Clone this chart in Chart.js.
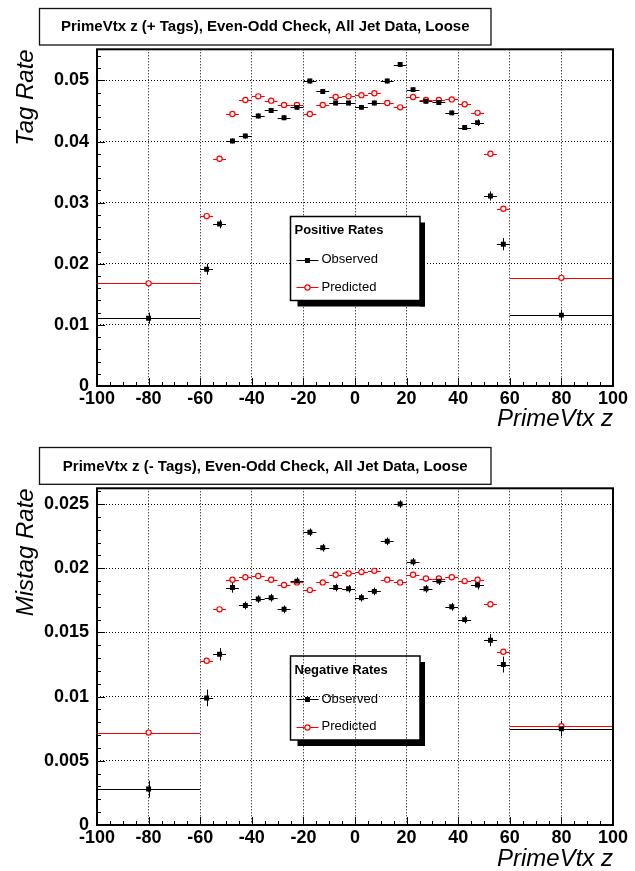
<!DOCTYPE html>
<html>
<head>
<meta charset="utf-8">
<title>PrimeVtx z - Even-Odd Check</title>
<script src="https://cdn.jsdelivr.net/npm/chart.js@4.4.1/dist/chart.umd.min.js"></script>
<style>
    html, body { margin: 0; padding: 0; background: #fff; }
    #wrap { position: relative; width: 635px; height: 871px; }
    canvas { position: absolute; left: 0; }
    #posCanvas { top: 0; }
    #negCanvas { top: 435px; }
</style>
</head>
<body>
<div id="wrap">
    <canvas id="posCanvas" width="635" height="435"></canvas>
    <canvas id="negCanvas" width="635" height="436"></canvas>
</div>
<script>
// Bins of PrimeVtx z (two wide bins at the ends, 5 cm bins in the middle)
const binCenters = [-80, -57.5, -52.5, -47.5, -42.5, -37.5, -32.5, -27.5, -22.5, -17.5, -12.5, -7.5, -2.5,
    2.5, 7.5, 12.5, 17.5, 22.5, 27.5, 32.5, 37.5, 42.5, 47.5, 52.5, 57.5, 80];
const binHalfWidths = [20, 2.5, 2.5, 2.5, 2.5, 2.5, 2.5, 2.5, 2.5, 2.5, 2.5, 2.5, 2.5,
    2.5, 2.5, 2.5, 2.5, 2.5, 2.5, 2.5, 2.5, 2.5, 2.5, 2.5, 2.5, 20];

// Positive tags
const posObserved = [0.0111, 0.0191, 0.0265, 0.0401, 0.0409, 0.0442, 0.0451, 0.0439, 0.0456, 0.0499, 0.0482, 0.0463, 0.0463,
    0.0456, 0.0463, 0.0499, 0.0526, 0.0485, 0.0466, 0.0464, 0.0447, 0.0423, 0.0431, 0.0311, 0.0232, 0.0116];
const posObservedErr = [0.0009, 0.0009, 0.0007, 0.0004, 0.0004, 0.0004, 0.0004, 0.0004, 0.0004, 0.0004, 0.0004, 0.0004, 0.0004,
    0.0004, 0.0004, 0.0004, 0.0004, 0.0004, 0.0004, 0.0004, 0.0004, 0.0004, 0.00055, 0.00075, 0.001, 0.0009];
const posPredicted = [0.0168, 0.0278, 0.0372, 0.0445, 0.0468, 0.0474, 0.0467, 0.0460, 0.0460, 0.0445, 0.0460, 0.0473, 0.0474,
    0.0476, 0.0479, 0.0463, 0.0456, 0.0473, 0.0468, 0.0468, 0.0469, 0.0461, 0.0447, 0.0380, 0.0290, 0.0177];
const posPredictedErr = [0.0001, 0.0001, 0.0001, 0.0001, 0.0001, 0.0001, 0.0001, 0.0001, 0.0001, 0.0001, 0.0001, 0.0001, 0.0001,
    0.0001, 0.0001, 0.0001, 0.0001, 0.0001, 0.0001, 0.0001, 0.0001, 0.0001, 0.0001, 0.0001, 0.0001, 0.0001];

// Negative tags (mistags)
const negObserved = [0.0028, 0.0099, 0.0133, 0.0185, 0.0171, 0.0176, 0.0177, 0.0168, 0.0190, 0.0228, 0.0216, 0.0185, 0.0184,
    0.0177, 0.0182, 0.0221, 0.0250, 0.0205, 0.0184, 0.0190, 0.0170, 0.0160, 0.0187, 0.0144, 0.0125, 0.0075];
const negObservedErr = [0.00065, 0.00065, 0.00048, 0.0004, 0.0003, 0.0003, 0.0003, 0.0003, 0.0003, 0.0003, 0.0003, 0.0003, 0.0003,
    0.0003, 0.0003, 0.0003, 0.0003, 0.0003, 0.0003, 0.0003, 0.0003, 0.0003, 0.00036, 0.00047, 0.00062, 0.0006];
const negPredicted = [0.0072, 0.0128, 0.0168, 0.0191, 0.0193, 0.0194, 0.0191, 0.0187, 0.0189, 0.0183, 0.0189, 0.0195, 0.0196,
    0.0197, 0.0198, 0.0191, 0.0189, 0.0195, 0.0192, 0.0192, 0.0193, 0.0190, 0.0191, 0.0172, 0.0135, 0.0077];
const negPredictedErr = [0.00005, 0.00005, 0.00005, 0.00005, 0.00005, 0.00005, 0.00005, 0.00005, 0.00005, 0.00005, 0.00005, 0.00005, 0.00005,
    0.00005, 0.00005, 0.00005, 0.00005, 0.00005, 0.00005, 0.00005, 0.00005, 0.00005, 0.00005, 0.00005, 0.00005, 0.00005];

// Tick labels
const xTicks = [-100, -80, -60, -40, -20, 0, 20, 40, 60, 80, 100];
const posYTicks = [0, 0.01, 0.02, 0.03, 0.04, 0.05];
const negYTicks = [0, 0.005, 0.01, 0.015, 0.02, 0.025];

const FONT = '"Liberation Sans", Arial, Helvetica, sans-serif';
Chart.defaults.font.family = FONT;
Chart.defaults.color = '#000';

// Plugin in stile ROOT: barre d'errore, cornice, tacche interne, box del titolo e legenda
const rootDecor = {
    id: 'rootDecor',
    beforeDatasetsDraw(chart) {
        const { ctx } = chart;
        const xs = chart.scales.x, ys = chart.scales.y;
        ctx.save();
        ctx.lineWidth = 1;
        chart.data.datasets.forEach(ds => {
            ctx.strokeStyle = ds.errColor;
            ds.data.forEach((p, i) => {
                const px = xs.getPixelForValue(p.x);
                const py = ys.getPixelForValue(p.y);
                const hy = Math.round(py) + 0.5;
                const vx = Math.round(px) + 0.5;
                ctx.beginPath();
                ctx.moveTo(xs.getPixelForValue(p.x - ds.xErr[i]), hy);
                ctx.lineTo(xs.getPixelForValue(p.x + ds.xErr[i]), hy);
                ctx.moveTo(vx, ys.getPixelForValue(p.y - ds.yErr[i]));
                ctx.lineTo(vx, ys.getPixelForValue(p.y + ds.yErr[i]));
                ctx.stroke();
            });
        });
        ctx.restore();
    },
    afterDraw(chart, args, opts) {
        const { ctx, chartArea: a } = chart;
        const xs = chart.scales.x, ys = chart.scales.y;
        ctx.save();

        // tacche interne (maggiori e minori)
        ctx.strokeStyle = '#000';
        ctx.lineWidth = 1;
        ctx.beginPath();
        for (let v = xs.min; v <= xs.max + 1e-9; v += opts.xMinor) {
            const major = Math.abs(v / opts.xMajor - Math.round(v / opts.xMajor)) < 1e-6;
            const px = Math.round(xs.getPixelForValue(v)) + 0.5;
            ctx.moveTo(px, a.bottom);
            ctx.lineTo(px, a.bottom - (major ? 8 : 4));
        }
        for (let k = 0; k * opts.yMinor <= ys.max + 1e-9; k++) {
            const v = k * opts.yMinor;
            const major = k % opts.yDiv === 0;
            const py = Math.round(ys.getPixelForValue(v)) + 0.5;
            ctx.moveTo(a.left, py);
            ctx.lineTo(a.left + (major ? 8 : 4), py);
        }
        ctx.stroke();

        // cornice
        ctx.lineWidth = 2;
        ctx.strokeRect(a.left, a.top, a.right - a.left, a.bottom - a.top);

        // box del titolo
        const t = opts.title;
        ctx.fillStyle = '#fff';
        ctx.fillRect(t.x1, t.y1, t.x2 - t.x1, t.y2 - t.y1);
        ctx.lineWidth = 1.3;
        ctx.strokeStyle = '#111';
        ctx.strokeRect(t.x1, t.y1, t.x2 - t.x1, t.y2 - t.y1);
        ctx.fillStyle = '#000';
        ctx.font = 'bold 15px ' + FONT;
        ctx.textAlign = 'center';
        ctx.textBaseline = 'middle';
        ctx.fillText(t.text, (t.x1 + t.x2) / 2, t.textY);

        // legenda con ombra
        const L = opts.legend;
        ctx.fillStyle = '#000';
        ctx.fillRect(L.x2, L.y1 + 6, 5, L.y2 - L.y1);
        ctx.fillRect(L.x1 + 7, L.y2, L.x2 - L.x1 - 2, 6);
        if (L.opaque) {
            ctx.fillStyle = '#fff';
            ctx.fillRect(L.x1, L.y1, L.x2 - L.x1, L.y2 - L.y1);
        }
        ctx.lineWidth = 1.5;
        ctx.strokeStyle = '#000';
        ctx.strokeRect(L.x1, L.y1, L.x2 - L.x1, L.y2 - L.y1);
        ctx.fillStyle = '#000';
        ctx.textAlign = 'left';
        ctx.font = 'bold 13px ' + FONT;
        ctx.fillText(L.heading, L.x1 + 4, L.y1 + 14);
        ctx.font = '13px ' + FONT;
        chart.data.datasets.forEach((ds, i) => {
            const ry = L.y1 + 43 + i * 27.5;
            const ly = Math.round(ry) + 0.5;
            ctx.strokeStyle = ds.errColor;
            ctx.lineWidth = 1;
            ctx.beginPath();
            ctx.moveTo(L.x1 + 6, ly);
            ctx.lineTo(L.x1 + 28, ly);
            ctx.stroke();
            ctx.fillStyle = ds.backgroundColor;
            ctx.strokeStyle = ds.borderColor;
            ctx.lineWidth = ds.borderWidth;
            Chart.helpers.drawPoint(ctx, { pointStyle: ds.pointStyle, radius: ds.pointRadius, borderWidth: ds.borderWidth, rotation: 0 }, L.x1 + 17, ly);
            ctx.fillStyle = '#000';
            ctx.fillText(ds.label, L.x1 + 31, ry);
        });
        ctx.restore();
    }
};

function buildDatasets(obs, obsErr, pred, predErr) {
    return [
        {
            label: 'Observed',
            data: binCenters.map((c, i) => ({ x: c, y: obs[i] })),
            xErr: binHalfWidths,
            yErr: obsErr,
            errColor: '#000',
            pointStyle: 'rect',
            pointRadius: 3.5,
            backgroundColor: '#000',
            borderColor: '#000',
            borderWidth: 0,
            showLine: false
        },
        {
            label: 'Predicted',
            data: binCenters.map((c, i) => ({ x: c, y: pred[i] })),
            xErr: binHalfWidths,
            yErr: predErr,
            errColor: '#ff0000',
            pointStyle: 'circle',
            pointRadius: 2.6,
            backgroundColor: '#fff',
            borderColor: '#ff0000',
            borderWidth: 1.2,
            showLine: false
        }
    ];
}

function makePanel(canvasId, p) {
    const ctx = document.getElementById(canvasId).getContext('2d');
    return new Chart(ctx, {
        type: 'scatter',
        data: { datasets: buildDatasets(p.obs, p.obsErr, p.pred, p.predErr) },
        plugins: [rootDecor],
        options: {
            responsive: false,
            animation: false,
            events: [],
            layout: { padding: { left: 0, top: p.plotTop, right: 22, bottom: 0 } },
            plugins: {
                legend: { display: false },
                tooltip: { enabled: false },
                rootDecor: {
                    xMajor: 20, xMinor: 5,
                    yMinor: p.yMinor, yDiv: 5,
                    title: p.title,
                    legend: p.legend
                }
            },
            scales: {
                x: {
                    type: 'linear',
                    min: -100,
                    max: 100,
                    afterFit: s => { s.height = p.xAxisHeight; },
                    afterBuildTicks: s => { s.ticks = xTicks.map(v => ({ value: v })); },
                    ticks: { font: { size: 18, weight: 'bold' }, padding: 2, maxRotation: 0, color: '#000', callback: v => String(v) },
                    grid: { color: '#000', lineWidth: 1, drawTicks: false },
                    border: { display: false, dash: [1, 2] },
                    title: {
                        display: true, text: 'PrimeVtx z', align: 'end', color: '#000',
                        font: { size: 24, style: 'italic' },
                        padding: { top: 0, bottom: p.xTitlePad }
                    }
                },
                y: {
                    type: 'linear',
                    min: 0,
                    max: p.yMax,
                    afterFit: s => { s.width = 97; },
                    afterBuildTicks: s => { s.ticks = p.yTicks.map(v => ({ value: v })); },
                    ticks: { font: { size: 18, weight: 'bold' }, padding: 8, color: '#000', callback: v => String(v) },
                    grid: { color: '#000', lineWidth: 1, drawTicks: false },
                    border: { display: false, dash: [1, 2] },
                    title: {
                        display: true, text: p.yTitle, align: 'end', color: '#000',
                        font: { size: 24, style: 'italic' },
                        padding: { top: 12, bottom: 0 }
                    }
                }
            }
        }
    });
}

document.addEventListener('DOMContentLoaded', () => {
    // Pannello superiore: tag positivi
    makePanel('posCanvas', {
        obs: posObserved, obsErr: posObservedErr, pred: posPredicted, predErr: posPredictedErr,
        yTicks: posYTicks, yMax: 0.0551, yMinor: 0.002, yTitle: 'Tag Rate',
        plotTop: 49.3, xAxisHeight: 49, xTitlePad: 1,
        title: { text: 'PrimeVtx z (+ Tags), Even-Odd Check, All Jet Data, Loose', x1: 39.5, y1: 8.5, x2: 491, y2: 45, textY: 27 },
        legend: { heading: 'Positive Rates', x1: 290.5, y1: 216.5, x2: 420, y2: 300.5, opaque: true }
    });

    // Pannello inferiore: tag negativi (mistag)
    makePanel('negCanvas', {
        obs: negObserved, obsErr: negObservedErr, pred: negPredicted, predErr: negPredictedErr,
        yTicks: negYTicks, yMax: 0.02623, yMinor: 0.001, yTitle: 'Mistag Rate',
        plotTop: 53.3, xAxisHeight: 46, xTitlePad: -3,
        title: { text: 'PrimeVtx z (- Tags), Even-Odd Check, All Jet Data, Loose', x1: 39.5, y1: 12.5, x2: 491, y2: 49.3, textY: 32 },
        legend: { heading: 'Negative Rates', x1: 290.5, y1: 221, x2: 420, y2: 305, opaque: false }
    });
});
</script>
</body>
</html>
